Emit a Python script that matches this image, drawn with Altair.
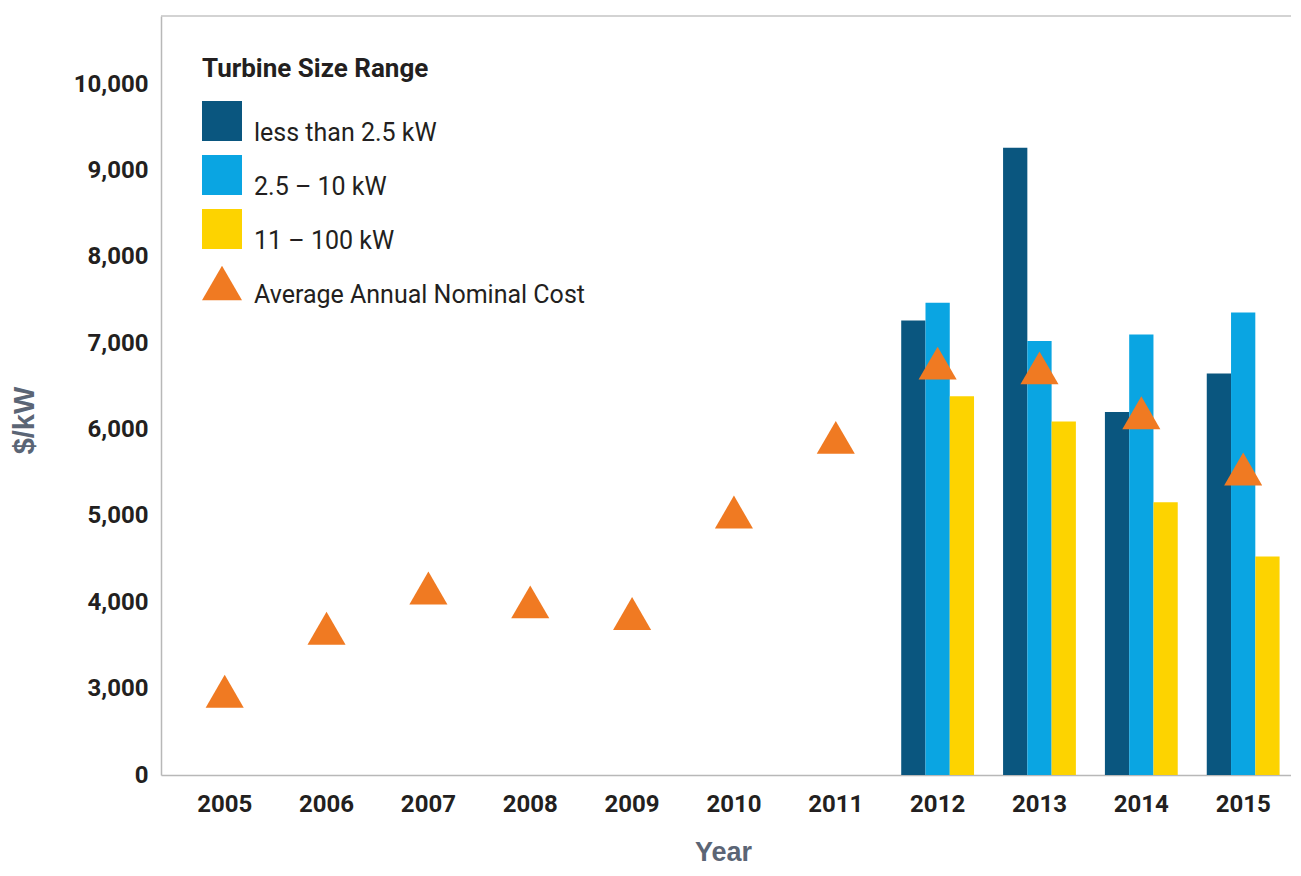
import altair as alt
import pandas as pd

# ---------------- data ----------------
years = ["2005", "2006", "2007", "2008", "2009", "2010",
         "2011", "2012", "2013", "2014", "2015"]
avg_cost = [2970, 3700, 4165, 4005, 3870, 5045, 5910, 6770, 6715, 6195, 5545]
avg_label = "Average Annual Nominal Cost"

bar_years = ["2012", "2013", "2014", "2015"]
size_ranges = ["less than 2.5 kW", "2.5 – 10 kW", "11 – 100 kW"]
cost_lt_2_5 = [7265, 9265, 6205, 6650]
cost_2_5_10 = [7470, 7025, 7100, 7355]
cost_11_100 = [6385, 6095, 5160, 4530]

# the reference uses a broken value axis: its "0" baseline sits one step below 3,000
axis_break = 2000
y_top = 10790
y_tick_values = [2000, 3000, 4000, 5000, 6000, 7000, 8000, 9000, 10000]

colors = ["#0a567f", "#0aa5e2", "#fdd300", "#f07a22"]
shapes = ["square", "square", "square", "triangle-up"]

# ---------------- tables ----------------
bar_rows = []
for series, vals in zip(size_ranges, [cost_lt_2_5, cost_2_5_10, cost_11_100]):
    for yr, v in zip(bar_years, vals):
        bar_rows.append({"year": yr, "series": series, "value": v})
bar_df = pd.DataFrame(bar_rows)
avg_df = pd.DataFrame({"year": years, "value": avg_cost, "series": avg_label})
top_df = pd.DataFrame({"value": [y_top]})

FONT = "Roboto, Liberation Sans, sans-serif"
WIDE = "Liberation Sans, Arial, sans-serif"
INK = "#231f20"
TITLE_INK = "#5b6575"
LINE = "#b8b8b8"

x_scale = alt.Scale(domain=years, paddingInner=0.285, paddingOuter=0.19, align=0.705)
y_scale = alt.Scale(domain=[axis_break, y_top], nice=False, zero=False)
all_series = size_ranges + [avg_label]
color_scale = alt.Scale(domain=all_series, range=colors)
shape_scale = alt.Scale(domain=all_series, range=shapes)

x_axis = alt.Axis(
    title="Year", labelAngle=0, labelFont=FONT, labelFontWeight="bold",
    labelFontSize=24, labelColor=INK, labelPadding=17, ticks=False, tickSize=0,
    grid=False, domainColor=LINE, domainWidth=1.5,
    titleFont=WIDE, titleFontSize=27, titleFontWeight="bold", titleColor=TITLE_INK,
    titleX=562, titleY=64,
)
y_axis = alt.Axis(
    title="$/kW", values=y_tick_values,
    labelExpr="datum.value == 2000 ? '0' : format(datum.value, ',')",
    labelFont=FONT, labelFontWeight="bold", labelFontSize=24, labelColor=INK,
    labelPadding=13, ticks=False, tickSize=0, grid=False,
    domainColor=LINE, domainWidth=1.5,
    titleFont=WIDE, titleFontSize=29, titleFontWeight="bold", titleColor=TITLE_INK,
    titleX=-122, titleY=404,
)

legend = alt.Legend(
    title="Turbine Size Range", orient="none", legendX=41, legendY=40, padding=0,
    titleFont=FONT, titleFontWeight="bold", titleFontSize=26, titleColor=INK,
    titlePadding=19, titleLimit=600,
    labelFont=FONT, labelFontSize=25, labelColor=INK, labelBaseline="top",
    labelOffset=12, labelLimit=600, symbolSize=1600, symbolStrokeWidth=0,
    symbolOpacity=1, rowPadding=9,
)

top_line = alt.Chart(top_df).mark_rule(color="#c4c4c4", strokeWidth=1.5).encode(
    y=alt.Y("value:Q", scale=y_scale, axis=y_axis)
)

bars = alt.Chart(bar_df).mark_bar().encode(
    x=alt.X("year:N", scale=x_scale, axis=x_axis),
    xOffset=alt.XOffset("series:N", sort=size_ranges,
                        scale=alt.Scale(domain=size_ranges, paddingInner=0, paddingOuter=0)),
    y=alt.Y("value:Q", scale=y_scale, axis=y_axis),
    y2=alt.datum(axis_break),
    color=alt.Color("series:N", scale=color_scale, legend=legend),
)

points = alt.Chart(avg_df).mark_point(
    filled=True, size=1450, opacity=1, strokeWidth=0
).encode(
    x=alt.X("year:N", scale=x_scale, axis=x_axis),
    y=alt.Y("value:Q", scale=y_scale, axis=y_axis),
    color=alt.Color("series:N", scale=color_scale, legend=legend),
    shape=alt.Shape("series:N", scale=shape_scale, legend=legend),
)

chart = alt.layer(top_line, bars, points).properties(
    width=1130, height=759,
    padding={"left": 153, "top": 8, "right": 0, "bottom": 92},
    autosize=alt.AutoSizeParams(type="none"),
    background="white",
).configure_view(stroke=None)

chart.save("out.html", embed_options={"renderer": "svg", "actions": False})
